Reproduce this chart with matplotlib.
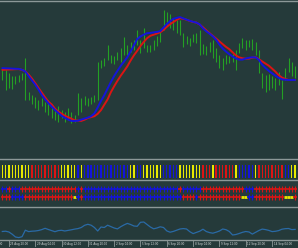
import matplotlib
matplotlib.use("Agg")
import matplotlib.pyplot as plt
from matplotlib.lines import Line2D
import matplotlib.transforms as mtransforms

# ---------------- data (bar index 0..89, H4 bars) ----------------
bars = list(range(90))

high = [90, 88, 85, 82, 82, 83, 85, 100, 66, 63, 61, 58, 60, 56, 58, 53, 50, 52, 48, 46,
        50, 46, 43, 65, 60, 62, 60, 61, 63, 96, 98, 100, 113, 103, 102, 106, 110, 121, 113, 116,
        118, 128, 118, 130, 113, 113, 118, 122, 128, 148, 146, 144, 140, 138, 138, 125, 122, 120, 124, 125,
        128, 114, 112, 116, 118, 110, 103, 100, 103, 102, 104, 108, 115, 120, 118, 118, 119, 116, 108, 85,
        83, 84, 82, 80, 86, 78, 90, 100, 96, 92]
low = [78, 68, 70, 69, 74, 76, 78, 58, 58, 54, 50, 48, 52, 46, 43, 40, 38, 36, 40, 36,
       38, 35, 36, 43, 46, 53, 52, 54, 56, 58, 90, 92, 98, 95, 94, 98, 96, 103, 103, 106,
       108, 113, 105, 110, 106, 106, 108, 112, 116, 128, 132, 130, 128, 125, 123, 111, 114, 112, 116, 115,
       103, 104, 103, 106, 100, 96, 90, 88, 94, 95, 96, 88, 105, 110, 108, 111, 108, 103, 85, 70,
       66, 68, 70, 68, 73, 59, 78, 86, 82, 80]

ma_fast = [89.9, 89.7, 89.6, 89.4, 89.2, 89.1, 88.2, 86.5, 82.0, 77.6, 73.4, 68.5, 63.0, 58.6, 54.8, 51.3,
           48.0, 45.1, 42.2, 40.2, 38.5, 37.1, 37.0, 37.3, 38.4, 39.4, 40.4, 41.8, 44.6, 50.6, 57.1, 62.8,
           69.4, 76.0, 82.0, 87.2, 92.2, 96.4, 100.8, 106.5, 112.6, 118.9, 121.6, 123.3, 124.8, 125.1,
           125.6, 126.1, 126.9, 130.4, 133.9, 136.8, 139.2, 140.1, 140.9, 139.6, 138.4, 137.2, 136.2,
           135.4, 133.6, 129.7, 126.7, 124.3, 121.7, 118.2, 113.4, 109.4, 106.4, 103.8, 101.4, 99.6,
           98.4, 98.4, 99.5, 100.2, 100.7, 100.6, 98.2, 93.3, 90.0, 87.1, 84.7, 82.4, 80.2, 78.6, 78.3,
           78.0, 78.0, 78.0]
ma_slow = [88.1, 88.3, 88.5, 88.6, 88.8, 88.9, 88.1, 86.7, 83.4, 79.5, 74.9, 70.1, 65.4, 60.7, 56.4, 53.6,
           49.3, 46.5, 44.4, 42.3, 40.8, 39.3, 37.7, 37.4, 37.1, 38.3, 40.0, 40.9, 41.8, 44.2, 47.9, 53.3,
           58.6, 65.8, 71.7, 77.2, 82.3, 86.9, 91.7, 97.5, 102.7, 107.2, 112.0, 116.1, 119.8, 122.2,
           123.3, 124.5, 125.8, 128.0, 131.2, 133.8, 136.0, 138.1, 139.8, 139.2, 138.3, 137.0, 136.0,
           135.4, 133.4, 130.7, 127.7, 124.8, 122.1, 119.4, 116.6, 113.8, 111.1, 108.8, 105.7, 102.6,
           100.6, 99.7, 99.3, 99.4, 100.4, 100.7, 98.8, 96.5, 94.4, 92.3, 89.4, 86.4, 82.8, 80.4, 79.1,
           78.0, 78.0, 78.0]

hist_state = ("YYYYYYYYY" + "RRRRRRRRR" + "YYYYY" + "B" + "Y" + "BBBBBBBBBBBBBB" + "YY" + "BB"
              + "YYYYYY" + "BBBBB" + "YYYYYYY" + "RRR" + "Y" + "RRRRRR" + "Y" + "BBBBB" + "Y"
              + "RRRRRRRR" + "BB" + "YY")
row1_state = ("BB" + "R" + "BBB" + "R" * 17 + "B" + "R" + "B" * 29 + "R" + "B" * 6 + "R" * 13
              + "BBB" + "R" * 13)
row2_state = ("RRR" + "BBBB" + "R" * 15 + "Y" + "B" + "R" + "B" * 30 + "RRRR" + "B" + "R" * 13
              + "YY" + "BB" + "R" * 9 + "YYY" + "R")

oscillator = [8.5, 8.8, 8.0, 5.8, 3.0, 2.4, 3.3, 9.8, 8.4, 8.8, 9.0, 9.5, 10.4, 11.7, 10.5, 9.4, 8.3, 9.4,
              9.7, 9.0, 9.6, 10.2, 10.9, 11.4, 12.5, 14.7, 15.7, 14.8, 12.5, 9.0, 13.0, 12.5, 14.8, 13.4,
              12.0, 11.1, 13.3, 15.1, 16.6, 15.5, 14.0, 13.7, 17.7, 18.0, 15.5, 13.0, 11.2, 12.0, 13.2,
              12.5, 9.1, 7.8, 8.6, 9.8, 11.0, 11.4, 11.0, 8.3, 6.4, 7.6, 8.8, 10.8, 8.5, 7.4, 6.8, 7.8,
              9.0, 11.0, 10.3, 8.5, 5.0, 5.5, 6.5, 7.7, 8.5, 8.0, 5.9, 7.7, 9.5, 10.9, 10.4, 9.6, 8.4,
              8.7, 9.4, 10.8, 11.3, 11.5, 10.4, 10.6]

tick_bars = [-6, 2, 10, 18, 26, 34, 42, 50, 58, 66, 74, 82]
tick_labels = ["24 Aug 12:00", "25 Aug 20:00", "29 Aug 04:00", "30 Aug 12:00", "31 Aug 20:00",
               "2 Sep 04:00", "5 Sep 12:00", "6 Sep 20:00", "8 Sep 04:00", "9 Sep 12:00",
               "12 Sep 20:00", "14 Sep 04:00"]

# ---------------- styling ----------------
BG = "#253a3a"
SEP = "#8c9898"
GREEN = "#24a024"
BLUE = "#1414dc"
RED = "#dc1414"
YEL = "#e8e800"
cmap = {"Y": YEL, "R": RED, "B": BLUE}

W, H = 298, 248
fig = plt.figure(figsize=(W / 100, H / 100), dpi=100, facecolor=BG)


def fy(px):
    return 1 - px / H


XL = (-0.7, W / 3.29 - 0.7)


def make_ax(top_px, bot_px):
    ax = fig.add_axes([0, fy(bot_px), 1, (bot_px - top_px) / H])
    ax.set_facecolor(BG)
    ax.set_xlim(*XL)
    ax.set_xticks([])
    ax.set_yticks([])
    for s in ax.spines.values():
        s.set_visible(False)
    return ax


# main price panel
ax1 = make_ax(2, 158)
ax1.set_ylim(0, 156)
ax1.vlines(bars, low, high, color=GREEN, lw=0.8)
ax1.plot(bars, ma_slow, color=RED, lw=1.4, solid_capstyle="round")
ax1.plot(bars, ma_fast, color=BLUE, lw=1.4, solid_capstyle="round")

# histogram panel
ax2 = make_ax(160, 179)
ax2.set_ylim(-1 / 13, 18 / 13)
ax2.bar(bars, [1] * len(bars), width=0.4, bottom=0,
        color=[cmap[c] for c in hist_state], linewidth=0)

# arrow rows panel
ax3 = make_ax(181, 206)
ax3.set_ylim(0, 25)
for rowy, states in ((17, row1_state), (9, row2_state)):
    for i, c in zip(bars, states):
        if c == "Y":
            ax3.hlines(rowy, i - 0.45, i + 0.45, color=YEL, lw=2.0)
        else:
            ax3.hlines(rowy, i - 0.5, i + 0.5, color=cmap[c], lw=1.2)
            ax3.plot([i], [rowy], marker="|", ms=4, mew=0.8, color=cmap[c])

# oscillator panel
ax4 = make_ax(208, 240)
ax4.set_ylim(0, 32)
ax4.plot(bars, oscillator, color="#2a6aa6", lw=0.9)

# separators
for ypx in (1, 159, 180, 207, 240):
    fig.add_artist(Line2D([0, 1], [fy(ypx), fy(ypx)], transform=fig.transFigure,
                          color=SEP, lw=1.0))

# time axis labels
trans = mtransforms.blended_transform_factory(ax4.transData, fig.transFigure)
for t, lab in zip(tick_bars, tick_labels):
    fig.add_artist(Line2D([t, t], [fy(240), fy(246)], transform=trans, color=SEP, lw=0.6))
    fig.text(0, 0, lab, transform=trans, fontsize=1.95, color="#d8dcdc",
             ha="left", va="center")
    fig.texts[-1].set_position((t + 0.45, fy(244)))

fig.savefig("out.png", dpi=100, facecolor=BG)
